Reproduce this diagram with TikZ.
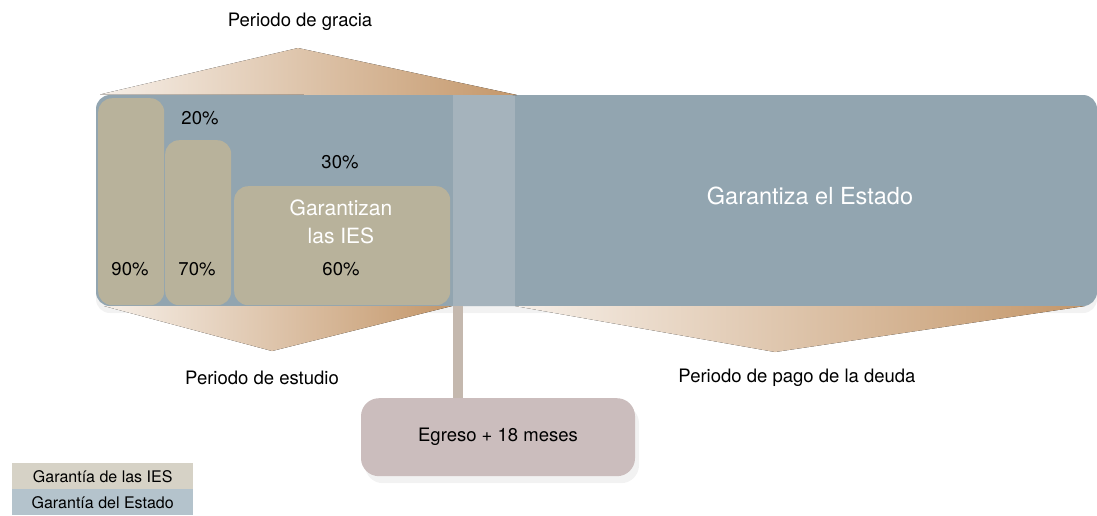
\documentclass[tikz,border=0pt]{standalone}
\usepackage{fontspec}
\setmainfont{TeX Gyre Heros}
\usetikzlibrary{shadows,positioning}
\definecolor{band}{HTML}{92A5B0}
\definecolor{bandlight}{HTML}{A5B3BC}
\definecolor{tan}{HTML}{B8B29B}
\definecolor{gradL}{HTML}{F6EFE8}
\definecolor{gradR}{HTML}{C4976A}
\definecolor{stem}{HTML}{C4B8AE}
\definecolor{egreso}{HTML}{CBBDBD}
\definecolor{legies}{HTML}{D6D2C6}
\definecolor{legest}{HTML}{B4C3CC}
\tikzset{
  wedge/.style={left color=gradL,right color=gradR,draw=none},
  tanbox/.style={fill=tan,draw=none,rounded corners=14pt},
  pct/.style={font=\fontsize{18.5}{22}\selectfont,text=black},
  lbl/.style={font=\fontsize{18.5}{22}\selectfont,text=black},
  wlbl/.style={font=\fontsize{23.5}{28}\selectfont,text=white,align=center},
  legbox/.style={minimum width=181pt,minimum height=26pt,inner sep=0pt,font=\fontsize{16}{19}\selectfont},
  softshadow/.style={drop shadow={opacity=0.10,shadow xshift=0pt,shadow yshift=-7pt}},
}
\begin{document}
\begin{tikzpicture}[x=1pt,y=-1pt]
\useasboundingbox (0,0) rectangle (1097,515);
% main band
\fill[band,rounded corners=14pt,softshadow] (96,95) rectangle (1097,306);
\fill[bandlight] (453,95) rectangle (515,306);
% wedges
\fill[wedge] (100,94.5) -- (298,48) -- (517,95) -- cycle;
\fill[wedge] (104,306) -- (272,351) -- (452,306) -- cycle;
\fill[wedge] (515,306) -- (775,352) -- (1085,306) -- cycle;
% tan boxes
\node[tanbox,minimum width=66pt,minimum height=207pt,anchor=north west,inner sep=0pt] (r1) at (98,98) {};
\node[tanbox,minimum width=66pt,minimum height=165pt,anchor=north west,inner sep=0pt] (r2) at (165,140) {};
\node[tanbox,minimum width=216pt,minimum height=119pt,anchor=north west,inner sep=0pt] (r3) at (234,186) {};
% labels
\node[pct] (p20) at (200,118) {20\%};
\node[pct] (p30) at (340,162) {30\%};
\node[pct] (p90) at (130,269) {90\%};
\node[pct] (p70) at (197,269) {70\%};
\node[pct] (p60) at (341,269) {60\%};
\node[wlbl,font=\fontsize{21}{28}\selectfont] (gies) at (341,222) {Garantizan\\las IES};
\node[wlbl] (gest) at (810,196) {Garantiza el Estado};
\node[lbl] (gracia) at (300,22) {Periodo de gracia};
\node[lbl] (estudio) at (262,378) {Periodo de estudio};
\node[lbl] (pago) at (797,378) {Periodo de pago de la deuda};
% egreso
\coordinate (stemtop) at (458,306);
\node[fill=egreso,rounded corners=18pt,minimum width=274pt,minimum height=78pt,anchor=north,inner sep=0pt,font=\fontsize{18.5}{22}\selectfont,drop shadow={opacity=0.10,shadow xshift=4pt,shadow yshift=-7pt}] (egr) at (498,398) {Egreso + 18 meses};
\draw[stem,line width=10pt] (stemtop) -- (stemtop |- egr.north);
% legend
\node[legbox,fill=legies,anchor=north west] (l1) at (12,463) {Garantía de las IES};
\node[legbox,fill=legest,anchor=north west] (l2) at (12,489) {Garantía del Estado};
\end{tikzpicture}
\end{document}
